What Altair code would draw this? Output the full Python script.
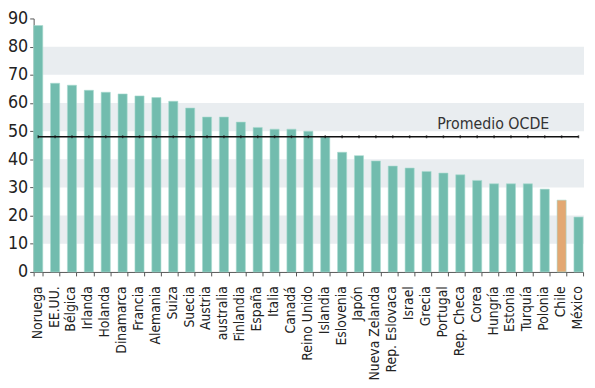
import altair as alt
import pandas as pd

countries = ["Noruega", "EE.UU.", "Bélgica", "Irlanda", "Holanda", "Dinamarca", "Francia",
             "Alemania", "Suiza", "Suecia", "Austria", "australia", "Finlandia", "España",
             "Italia", "Canadá", "Reino Unido", "Islandia", "Eslovenia", "Japón",
             "Nueva Zelanda", "Rep. Eslovaca", "Israel", "Grecia", "Portugal", "Rep. Checa",
             "Corea", "Hungría", "Estonia", "Turquía", "Polonia", "Chile", "México"]
values = [87.5, 67.0, 66.3, 64.5, 63.8, 63.2, 62.5, 61.9, 60.6, 58.2, 55.0, 55.0, 53.2, 51.3,
          50.7, 50.7, 50.0, 47.9, 42.5, 41.3, 39.4, 37.6, 36.9, 35.7, 35.1, 34.5, 32.5, 31.3,
          31.3, 31.3, 29.4, 25.5, 19.5]
highlight = ["Chile"]
oecd_avg = 48.0
band_start = [10, 30, 50, 70]
band_end = [20, 40, 60, 80]
y_ticks = [0, 10, 20, 30, 40, 50, 60, 70, 80, 90]

FONT = "DejaVu Sans Condensed"
TEAL = "#72bcae"
ORANGE = "#e3a872"

df = pd.DataFrame({"country": countries, "value": values})
df["hl"] = df["country"].isin(highlight)
df["avg"] = oecd_avg
bands = pd.DataFrame({"y": band_start, "y2": band_end})

xaxis = alt.Axis(labelAngle=270, labelFont=FONT, labelFontSize=14,
                 labelColor="#222222", labelPadding=10, tickSize=4,
                 tickBand="extent", domainColor="#555555", tickColor="#555555",
                 labelOffset=-1, labelLimit=0, labelOverlap=False)
yaxis = alt.Axis(values=y_ticks, grid=False, labelFont=FONT,
                 labelFontSize=18, labelColor="#222222", tickSize=4,
                 domainColor="#555555", tickColor="#555555", labelPadding=2,
                 labelOverlap=False, labelFlush=False, title=None)
yscale = alt.Scale(domain=[0, 90], nice=False, zero=True)
xscale = alt.Scale(paddingInner=0.46, paddingOuter=0.0)

band_layer = alt.Chart(bands).mark_rect(color="#e9edf0").encode(
    x=alt.value(0), x2=alt.value(558),
    y=alt.Y("y:Q", scale=yscale, axis=yaxis, title=None), y2="y2:Q")

bars = alt.Chart(df).mark_bar(stroke="#a8dad0", strokeWidth=0.6).encode(
    x=alt.X("country:N", sort=countries, title=None, scale=xscale, axis=xaxis),
    y=alt.Y("value:Q", scale=yscale, axis=yaxis, title=None),
    color=alt.condition("datum.hl", alt.value(ORANGE), alt.value(TEAL)))

line = alt.Chart(df).mark_line(color="#111111", strokeWidth=1.4).encode(
    x=alt.X("country:N", sort=countries, title=None, axis=xaxis),
    y=alt.Y("avg:Q", scale=yscale, axis=yaxis, title=None))

ticks = alt.Chart(df).mark_tick(color="#111111", size=3, thickness=1.5, orient="vertical").encode(
    x=alt.X("country:N", sort=countries, title=None, axis=xaxis),
    y=alt.Y("avg:Q", scale=yscale, axis=yaxis, title=None))

label = alt.Chart(pd.DataFrame({"t": ["Promedio OCDE"], "v": [oecd_avg]})).mark_text(
    font=FONT, fontSize=16, color="#333333", align="center", baseline="alphabetic", dy=-8
).encode(x=alt.value(466), y=alt.Y("v:Q", scale=yscale, axis=yaxis, title=None), text="t:N")

chart = alt.layer(band_layer, bars, line, ticks, label).properties(
    width=557, height=257,
    autosize=alt.AutoSizeParams(type="none"),
    padding={"left": 26, "top": 8, "right": 4, "bottom": 112},
).configure_view(stroke=None)

chart.save("out.html", embed_options={"renderer": "svg", "actions": False})
